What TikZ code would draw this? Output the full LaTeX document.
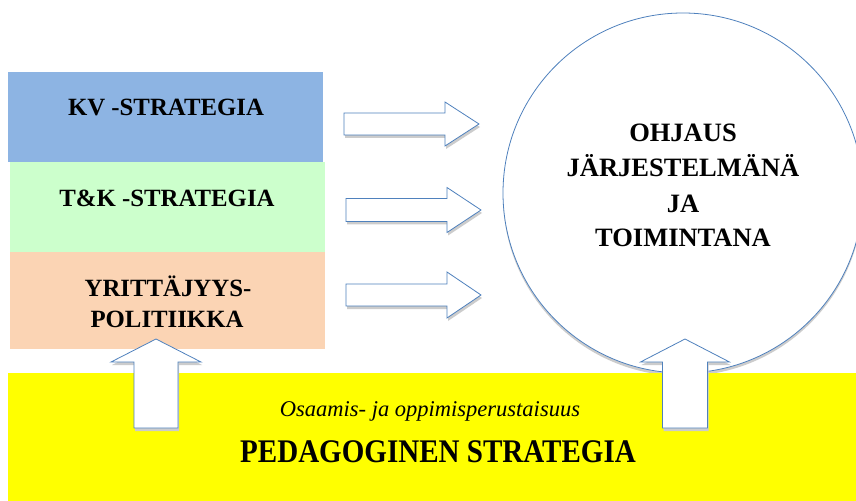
\documentclass[tikz,border=0pt]{standalone}
\usepackage{fontspec}
\setmainfont{Liberation Serif}
\definecolor{kvblue}{RGB}{141,180,227}
\definecolor{tkgreen}{RGB}{204,255,204}
\definecolor{yporange}{RGB}{251,212,180}
\definecolor{pyellow}{RGB}{255,255,0}
\definecolor{edgeblue}{RGB}{79,129,189}
\begin{document}
\begin{tikzpicture}[x=1bp,y=-1bp,
  band/.style={draw=none, inner sep=0, outer sep=0, anchor=north west},
  boxlabel/.style={font=\bfseries\fontsize{24.8bp}{28bp}\selectfont, anchor=base, inner sep=0},
  circlabel/.style={font=\bfseries\fontsize{26.5bp}{30bp}\selectfont, anchor=base, inner sep=0},
  fatarrow/.style={draw=edgeblue, line width=0.8bp, fill=white, line join=miter},
  arrowshadow/.style={fill=gray!40, draw=none}]
\useasboundingbox (0,0) rectangle (856,501);
\fill[white] (0,0) rectangle (856,501);
% strategy bands
\node[band, fill=kvblue, minimum width=315bp, minimum height=90bp] (kv) at (8,72) {};
\node[band, fill=tkgreen, minimum width=315bp, minimum height=90bp] (tk) at (10,162) {};
\node[band, fill=yporange, minimum width=315bp, minimum height=97bp] (yp) at (10,252) {};
\node[boxlabel] (kvt) at (166,116) {KV -STRATEGIA};
\node[boxlabel] (tkt) at (167,207) {T\&K -STRATEGIA};
\node[boxlabel] (ypt1) at (168,297) {YRITTÄJYYS-};
\node[boxlabel] (ypt2) at (167,328) {POLITIIKKA};
% circle
\node[circle, fill=gray!40, minimum size=360bp, inner sep=0] (circs) at (683,196) {};
\node[circle, draw=edgeblue, fill=white, line width=0.8bp, minimum size=360bp, inner sep=0] (circ) at (683,193) {};
\node[circlabel] (c1) at (683,142) {OHJAUS};
\node[circlabel] (c2) at (683,177) {JÄRJESTELMÄNÄ};
\node[circlabel] (c3) at (683,213) {JA};
\node[circlabel] (c4) at (683,247) {TOIMINTANA};
% pedagogical base
\node[band, fill=pyellow, minimum width=848bp, minimum height=128bp] (ped) at (8,373) {};
\node[anchor=base, inner sep=0, font=\itshape\fontsize{22.5bp}{26bp}\selectfont] (osa) at (430,416) {Osaamis- ja oppimisperustaisuus};
\node[anchor=base, inner sep=0, font=\bfseries\fontsize{33bp}{38bp}\selectfont\addfontfeatures{FakeStretch=0.88}] (pst) at (438,462) {PEDAGOGINEN STRATEGIA};
% right block arrows
\foreach \sx/\hx/\tx/\ty/\sh/\hh in {344/445/479/124/11/22, 346/447/481/210/11.5/22.5, 346/447/481/295/11/23} {
  \fill[arrowshadow, shift={(1,3)}] (\sx,\ty-\sh) -- (\hx,\ty-\sh) -- (\hx,\ty-\hh) -- (\tx,\ty) -- (\hx,\ty+\hh) -- (\hx,\ty+\sh) -- (\sx,\ty+\sh) -- cycle;
  \draw[fatarrow] (\sx,\ty-\sh) -- (\hx,\ty-\sh) -- (\hx,\ty-\hh) -- (\tx,\ty) -- (\hx,\ty+\hh) -- (\hx,\ty+\sh) -- (\sx,\ty+\sh) -- cycle;
}
% up block arrows
\foreach \cx/\hw/\sw in {156/45/22, 685/44.5/22.5} {
  \fill[arrowshadow, shift={(1,3)}] (\cx-\sw,428) -- (\cx-\sw,362) -- (\cx-\hw,362) -- (\cx,339) -- (\cx+\hw,362) -- (\cx+\sw,362) -- (\cx+\sw,428) -- cycle;
  \draw[fatarrow] (\cx-\sw,428) -- (\cx-\sw,362) -- (\cx-\hw,362) -- (\cx,339) -- (\cx+\hw,362) -- (\cx+\sw,362) -- (\cx+\sw,428) -- cycle;
}
\end{tikzpicture}
\end{document}
